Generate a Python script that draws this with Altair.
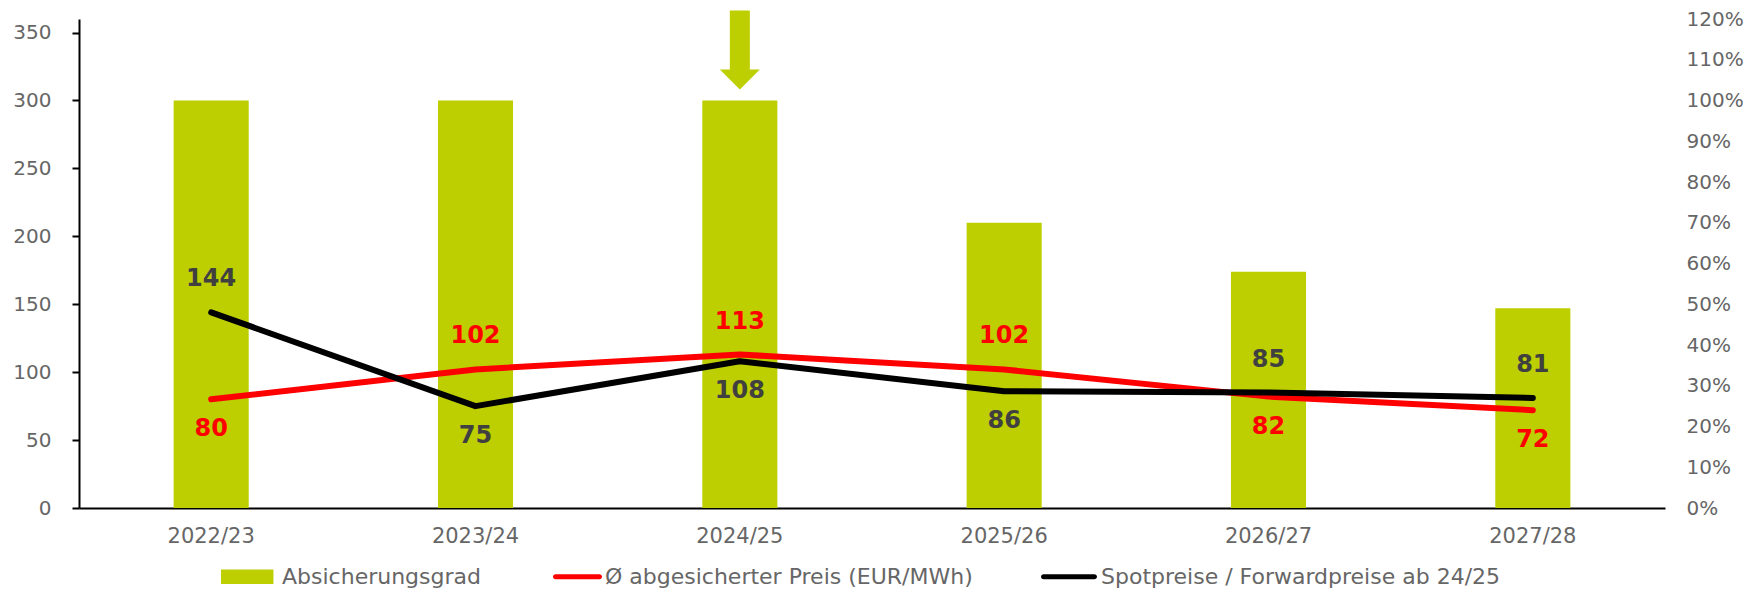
import altair as alt
import pandas as pd

# ---------------- data ----------------
years = ["2022/23", "2023/24", "2024/25", "2025/26", "2026/27", "2027/28"]
hedge_ratio = [1.00, 1.00, 1.00, 0.70, 0.58, 0.49]          # Absicherungsgrad (right axis)
hedged_price = [80, 102, 113, 102, 82, 72]                  # Ø abgesicherter Preis (EUR/MWh)
spot_price = [144, 75, 108, 86, 85, 81]                     # Spotpreise / Forwardpreise ab 24/25
hedged_label_side = ["below", "above", "above", "above", "below", "below"]
spot_label_side = ["above", "below", "below", "below", "above", "above"]
current_year = "2024/25"

series_names = [
    "Absicherungsgrad",
    "Ø abgesicherter Preis (EUR/MWh)",
    "Spotpreise / Forwardpreise ab 24/25",
]
series_colors = ["#BDCF00", "#FF0000", "#000000"]

FONT = "DejaVu Sans"
GREY = "#666666"
LABEL_DARK = "#404040"

bars_df = pd.DataFrame({"year": years, "ratio": hedge_ratio})
lines_df = pd.concat([
    pd.DataFrame({"year": years, "value": hedged_price, "series": series_names[1],
                  "side": hedged_label_side, "order": range(6)}),
    pd.DataFrame({"year": years, "value": spot_price, "series": series_names[2],
                  "side": spot_label_side, "order": range(6)}),
], ignore_index=True)
legend_df = pd.DataFrame({"series": series_names})

x_enc = alt.X("year:N", sort=years, title=None,
              scale=alt.Scale(paddingInner=0.716, paddingOuter=0.358),
              axis=alt.Axis(labelAngle=0, ticks=False, domainColor="black", domainWidth=2,
                            labelPadding=17, labelFontSize=21, labelFont=FONT,
                            labelColor=GREY))

# ---------------- bars (right axis) ----------------
bars = alt.Chart(bars_df).mark_bar(color=series_colors[0]).encode(
    x=x_enc,
    y=alt.Y("ratio:Q", title=None,
            scale=alt.Scale(domain=[0, 1.2], nice=False),
            axis=alt.Axis(orient="right", format="%", values=[i / 10 for i in range(13)],
                          domain=False, ticks=False, grid=False, labelPadding=21,
                          labelFontSize=20, labelFont=FONT, labelColor=GREY)),
)

arrow_path = "M-0.5,-4.5 L0.5,-4.5 L0.5,-1.55 L1,-1.55 L0,-0.55 L-1,-1.55 L-0.5,-1.55 Z"
arrow = alt.Chart(bars_df).transform_filter(
    alt.datum.year == current_year
).mark_point(shape=arrow_path, size=1600, filled=True, opacity=1,
             color=series_colors[0], strokeWidth=0).encode(
    x=alt.X("year:N", sort=years),
    y=alt.Y("ratio:Q"),
)

bar_layer = alt.layer(bars, arrow)

# ---------------- lines (left axis) ----------------
y_left = alt.Y("value:Q", title=None,
               scale=alt.Scale(domain=[0, 360], nice=False),
               axis=alt.Axis(orient="left", values=list(range(0, 351, 50)), grid=False,
                             domainColor="black", domainWidth=2, tickColor="black",
                             tickWidth=2, tickSize=7, labelPadding=21,
                             labelFontSize=20, labelFont=FONT, labelColor=GREY))

red_line = alt.Chart(lines_df).transform_filter(
    alt.datum.series == series_names[1]
).mark_line(color=series_colors[1], strokeWidth=6, strokeCap="round", strokeJoin="round").encode(
    x=alt.X("year:N", sort=years), y=y_left, order="order:Q")

black_line = alt.Chart(lines_df).transform_filter(
    alt.datum.series == series_names[2]
).mark_line(color=series_colors[2], strokeWidth=6, strokeCap="round", strokeJoin="round").encode(
    x=alt.X("year:N", sort=years), y="value:Q", order="order:Q")

label_color = alt.condition(alt.datum.series == series_names[1],
                            alt.value("#FF0000"), alt.value(LABEL_DARK))

labels_above = alt.Chart(lines_df).transform_filter(
    alt.datum.side == "above"
).mark_text(dy=-33, fontSize=24, fontWeight="bold", font=FONT, baseline="middle").encode(
    x=alt.X("year:N", sort=years), y="value:Q", text="value:Q", color=label_color)

labels_below = alt.Chart(lines_df).transform_filter(
    alt.datum.side == "below"
).mark_text(dy=30, fontSize=24, fontWeight="bold", font=FONT, baseline="middle").encode(
    x=alt.X("year:N", sort=years), y="value:Q", text="value:Q", color=label_color)

# legend carrier (no marks drawn, only the legend)
shape_paths = [
    "M-1.19,-0.27 L0.79,-0.27 L0.79,0.27 L-1.19,0.27 Z",
    "M-0.755,-0.095 L0.905,-0.095 A0.095,0.095 0 0 1 0.905,0.095 L-0.755,0.095 A0.095,0.095 0 0 1 -0.755,-0.095 Z",
    "M-1.055,-0.095 L0.865,-0.095 A0.095,0.095 0 0 1 0.865,0.095 L-1.055,0.095 A0.095,0.095 0 0 1 -1.055,-0.095 Z",
]
legend_props = dict(title=None, orient="none", direction="horizontal",
                    legendX=147, legendY=531, symbolSize=2809,
                    symbolStrokeWidth=0, labelFont=FONT, labelFontSize=22,
                    labelColor=GREY, labelOffset=3, labelLimit=800,
                    columnPadding=68)
legend_layer = alt.Chart(legend_df).transform_filter("false").mark_point(
    filled=True, opacity=1, strokeWidth=0
).encode(
    color=alt.Color("series:N", scale=alt.Scale(domain=series_names, range=series_colors),
                    legend=alt.Legend(**legend_props)),
    shape=alt.Shape("series:N", scale=alt.Scale(domain=series_names, range=shape_paths),
                    legend=alt.Legend(**legend_props)),
)

price_layer = alt.layer(red_line, black_line, labels_above, labels_below, legend_layer)

chart = alt.layer(bar_layer, price_layer).resolve_scale(y="independent").properties(
    width=1586, height=489,
    autosize=alt.AutoSizeParams(type="none"),
    padding={"left": 71, "top": 11, "right": 80, "bottom": 85},
).configure(background="white", view=alt.ViewConfig(stroke=None))

chart.save("out.html", embed_options={"renderer": "svg", "actions": False})
